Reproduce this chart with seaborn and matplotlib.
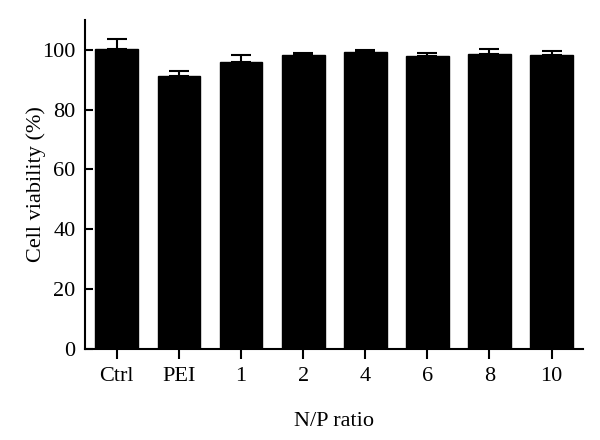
import matplotlib
matplotlib.use('Agg')
import matplotlib.pyplot as plt
import seaborn as sns
import pandas as pd

# Data
groups = ['Ctrl', 'PEI', '1', '2', '4', '6', '8', '10']
viability = [100.2, 91.3, 95.8, 98.3, 99.4, 97.8, 98.6, 98.3]
sd_upper = [3.4, 1.6, 2.3, 0.6, 0.5, 1.0, 1.6, 1.3]

df = pd.DataFrame({'group': groups, 'viability': viability})

sns.set_style('ticks')
plt.rcParams['font.family'] = ['Liberation Serif', 'DejaVu Serif']
plt.rcParams['text.color'] = 'black'
plt.rcParams['axes.labelcolor'] = 'black'

fig = plt.figure(figsize=(6, 4.4), dpi=100)
ax = fig.add_axes([0.142, 0.207, 0.83, 0.748])

sns.barplot(data=df, x='group', y='viability', color='black', width=0.69,
            errorbar=None, saturation=1, ax=ax, edgecolor='black')
ax.errorbar(range(len(groups)), viability,
            yerr=[[0] * len(groups), sd_upper],
            fmt='none', ecolor='black', elinewidth=1.5, capsize=7, capthick=1.5)

ax.set_ylim(0, 110)
ax.set_xlim(-0.51, 7.51)
ax.set_yticks([0, 20, 40, 60, 80, 100])
ax.set_xlabel('N/P ratio', fontsize=16, labelpad=19, color='black')
ax.set_ylabel('Cell viability (%)', fontsize=16, labelpad=-3, color='black')

sns.despine(ax=ax)
for s in ['left', 'bottom']:
    ax.spines[s].set_linewidth(1.5)
    ax.spines[s].set_color('black')
ax.tick_params(axis='y', direction='in', length=6, width=1.5, pad=7, labelsize=16,
               color='black', labelcolor='black')
ax.tick_params(axis='x', direction='out', length=7, width=1.5, pad=6, labelsize=16,
               color='black', labelcolor='black')

fig.savefig('out.png', dpi=100)
